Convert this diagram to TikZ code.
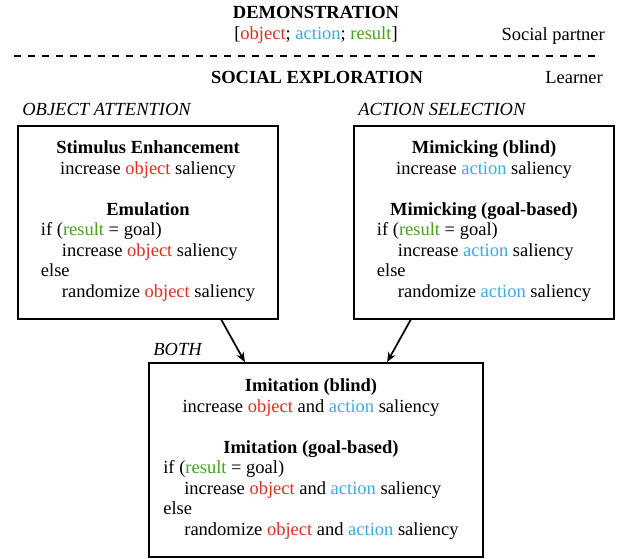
\documentclass[tikz,border=0pt]{standalone}
\usepackage{fontspec}
\setmainfont{Liberation Serif}
\usepackage{xcolor}
\usetikzlibrary{arrows.meta, positioning}
\definecolor{objred}{HTML}{DC2F1E}
\definecolor{actblue}{HTML}{3AAADF}
\definecolor{resgreen}{HTML}{45A21F}
\newcommand{\objw}{\textcolor{objred}{object}}
\newcommand{\actw}{\textcolor{actblue}{action}}
\newcommand{\resw}{\textcolor{resgreen}{result}}
\newcommand{\indw}{\hspace*{21pt}}
\newcommand{\ctrline}[1]{\multicolumn{1}{@{}c@{}}{#1}}

\begin{document}
\begin{tikzpicture}[x=1pt, y=-1pt,
  every node/.style={font=\fontsize{18.5}{20.5}\selectfont},
  txt/.style={inner sep=0pt},
  head/.style={inner sep=0pt, font=\fontsize{18.5}{20.5}\selectfont\bfseries},
  caption/.style={inner sep=0pt, font=\fontsize{18.5}{20.5}\selectfont\itshape},
  box/.style={rectangle, draw, line width=1.7pt, inner sep=0pt, minimum height=193pt},
  link/.style={-{Stealth[length=10pt, width=8pt]}, line width=1.7pt},
]
\useasboundingbox (0,0) rectangle (632,558);

% Social partner
\node[head, anchor=base] (demo) at (316,18.5) {DEMONSTRATION};
\node[txt, anchor=base] (demolist) at (316,39.5) {[\objw; \actw; \resw]};
\node[txt, anchor=base east] (partner) at (605,40) {Social partner};

% Separator
\draw[line width=2.5pt, dash pattern=on 7pt off 7pt] (14,56) -- (600,56);

% Learner
\node[head, anchor=base] (explore) at (317,83) {SOCIAL EXPLORATION};
\node[txt, anchor=base east] (learner) at (603,83) {Learner};

% Boxes
\node[box, minimum width=260pt] (objbox) at (148,222.5) {\begin{tabular}{@{}l@{}}
\ctrline{\textbf{Stimulus Enhancement}}\\
\ctrline{increase \objw{} saliency}\\
\\
\ctrline{\textbf{Emulation}}\\
if (\resw{} = goal)\\
\indw increase \objw{} saliency\\
else\\
\indw randomize \objw{} saliency\\[2pt]
\end{tabular}};
\node[box, minimum width=260pt] (actbox) at (484,222.5) {\begin{tabular}{@{}l@{}}
\ctrline{\textbf{Mimicking (blind)}}\\
\ctrline{increase \actw{} saliency}\\
\\
\ctrline{\textbf{Mimicking (goal-based)}}\\
if (\resw{} = goal)\\
\indw increase \actw{} saliency\\
else\\
\indw randomize \actw{} saliency\\[2pt]
\end{tabular}};
\node[box, minimum width=334pt, minimum height=194pt] (bothbox) at (316,460) {\begin{tabular}{@{}l@{}}
\ctrline{\textbf{Imitation (blind)}}\\
\ctrline{increase \objw{} and \actw{} saliency}\\
\\
\ctrline{\textbf{Imitation (goal-based)}}\\
if (\resw{} = goal)\\
\indw increase \objw{} and \actw{} saliency\\
else\\
\indw randomize \objw{} and \actw{} saliency\\[1pt]
\end{tabular}\hspace*{10pt}};

% Captions
\node[caption, above right=9pt and 5pt of objbox.north west] (objcap) {OBJECT ATTENTION};
\node[caption, above right=9pt and 5pt of actbox.north west] (actcap) {ACTION SELECTION};
\node[caption, above right=6.5pt and 5pt of bothbox.north west] (bothcap) {BOTH};

% Arrows
\draw[link] (objbox.-53) -- (bothbox.126);
\draw[link] (actbox.-127) -- (bothbox.54);

\end{tikzpicture}
\end{document}
